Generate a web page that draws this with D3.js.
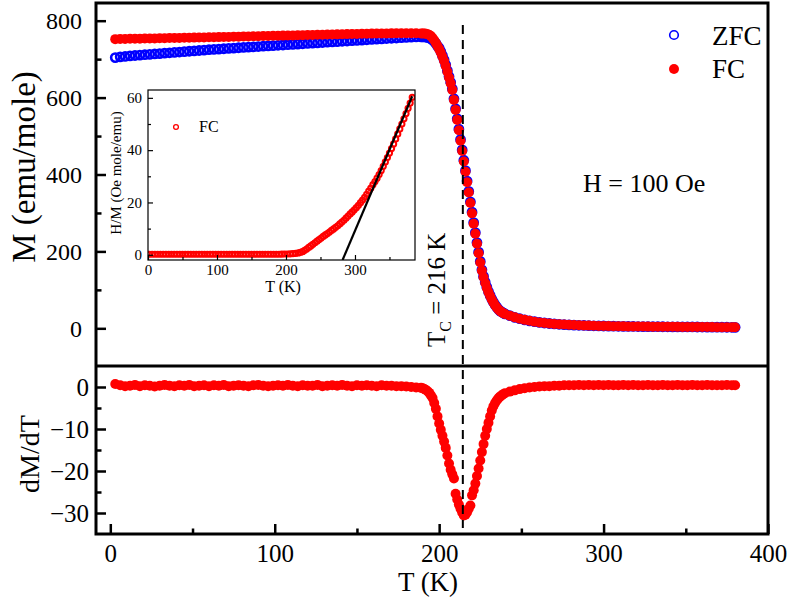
<!DOCTYPE html>
<html>
<head>
<meta charset="utf-8">
<title>M vs T</title>
<script src="https://d3js.org/d3.v7.min.js"></script>
<style>
    body { margin: 0; background: #fff; }
    .tick line { stroke: #000; }
</style>
</head>
<body>
<div id="chart"></div>
<script>
    // Temperature grids (K)
    const tLow = [3,6,9,12,15,18,21,24,27,30,33,36,39,42,45,48,51,54,57,60,63,66,69,72,75,78,81,84,87,90,93,96,99,102,105,108,111,114,117,120,123,126,129,132,135,138,141,144,147,150,153,156,159,162,165,168,171,174,177,180,183,186,189];
    const tMid = [190,191,192,193,194,195,196,197,198,199,200,201,202,203,204,205,206,207,208,209,210,211,212,213,214,215,216,217,218,219,220,221,222,223,224,225,226,227,228,229,230,231,232,233,234,235,236,237,238,239,240];
    const tHigh = [243,246,249,252,255,258,261,264,267,270,273,276,279,282,285,288,291,294,297,300,303,306,309,312,315,318,321,324,327,330,333,336,339,342,345,348,351,354,357,360,363,366,369,372,375,378,380];

    // ZFC magnetisation (emu/mole)
    const zfcLow = [704,706,707,708.5,709.5,710.5,711.5,712.5,713.5,714.5,715.5,716.5,717.5,718.5,719.5,720.5,721.5,722.5,723.5,724.5,725.3,726,727,728,728.8,729.6,730.4,731.2,732,732.8,733.6,734.4,735.2,736,736.8,737.6,738.4,739.2,740,740.8,741.6,742.4,743.2,744,744.8,745.6,746.4,747.2,748,748.8,749.6,750.4,751.2,752,752.8,753.6,754.3,755,755.8,756.5,757.2,757.8,758];
    const zfcMid = [758,758,757.5,756.5,755,753,750,746,741,734,729,720,709,698,685,670,655,640,623,597,571,545,518,491,464,437,410,383,356,329,302,275,249,223,198,174,152,135,120,107,95.5,85.5,76,68,61,55,49.5,45.5,42.5,40,37.5];

    // FC magnetisation (emu/mole)
    const fcLow = [752,752.2,752.5,752.8,753,753.3,753.5,753.8,754,754.3,754.5,754.8,755,755.3,755.5,755.8,756,756.3,756.5,756.8,757,757.3,757.6,757.9,758.2,758.5,758.8,759.1,759.4,759.7,760,760.3,760.6,760.9,761.2,761.5,761.8,762.1,762.4,762.7,763,763.3,763.6,763.9,764.2,764.5,764.8,765.1,765.4,765.7,766,766.2,766.4,766.6,766.8,767,767.1,767.2,767.3,767.3,767.3,767.2,767];
    const fcMid = [766.8,766.5,766,765,763,760,755,749,742,734,726,717,706,695,682,667,652,637,620,594,568,542,515,488,461,434,407,380,353,326,299,272,246,220,195,171,150,133,118,105,94,84,75,67,60,54,49,45,42,39.5,37];
    const fcHigh = [33,28.5,25,22,19.5,17.3,15.3,13.8,12.5,11.4,10.5,9.7,9.0,8.4,7.9,7.4,7.0,6.6,6.3,6.0,5.7,5.5,5.3,5.1,4.9,4.8,4.6,4.5,4.4,4.3,4.2,4.1,4.0,3.9,3.8,3.7,3.6,3.5,3.4,3.3,3.2,3.1,3.0,2.9,2.8,2.7,2.6];
    // above 240 K the ZFC and FC curves coincide
    const zfcHigh = fcHigh;

    // dM/dT of FC
    const dLow = [0.7,0.4,0.2,0.3,0.5,0.2,0.4,0.3,0.1,0.3,0.5,0.3,0.2,0.4,0.3,0.5,0.2,0.3,0.4,0.2,0.4,0.3,0.5,0.2,0.3,0.4,0.3,0.2,0.4,0.5,0.3,0.2,0.3,0.4,0.3,0.5,0.3,0.2,0.4,0.3,0.3,0.5,0.2,0.3,0.4,0.3,0.5,0.3,0.2,0.4,0.3,0.4,0.3,0.2,0.4,0.3,0.3,0.2,0.2,0.1,0.0,-0.1,-0.2];
    const dMid = [-0.3,-0.5,-0.7,-1.0,-1.4,-2.0,-2.6,-3.8,-5.2,-7.0,-8.7,-10.2,-11.6,-13.0,-14.5,-16.3,-18.2,-19.7,-20.8,-21.8,-25.4,-26.8,-28.0,-29.0,-29.9,-30.6,-30.4,-29.8,-29.0,-28.2,-25.8,-24.6,-23.0,-21.2,-19.4,-17.5,-15.5,-13.6,-11.6,-10.0,-8.5,-7.0,-5.6,-4.6,-3.8,-3.2,-2.7,-2.3,-2.0,-1.7,-1.5];
    const dHigh = [-1.1,-0.8,-0.5,-0.3,-0.1,0.0,0.1,0.2,0.2,0.3,0.3,0.4,0.4,0.4,0.5,0.4,0.5,0.4,0.5,0.4,0.5,0.4,0.4,0.5,0.4,0.5,0.4,0.4,0.5,0.4,0.4,0.5,0.4,0.4,0.5,0.4,0.4,0.5,0.4,0.4,0.5,0.4,0.4,0.4,0.5,0.4,0.4];

    // Inset: H/M (Oe mole/emu) of FC
    const inT = [2,6,10,14,18,22,26,30,34,38,42,46,50,54,58,62,66,70,74,78,82,86,90,94,98,102,106,110,114,118,122,126,130,134,138,142,146,150,154,158,162,166,170,174,178,182,186,190,194,198,202,206,210,214,218,
                 221,224,227,230,233,236,239,242,245,248,251,254,257,260,263,266,269,272,275,278,281,284,287,290,293,296,299,302,305,308,311,314,317,320,323,326,329,332,335,338,341,344,347,350,353,356,359,362,365,368,371,374,377,380,383];
    const inHM = [0.2,0.2,0.2,0.2,0.2,0.2,0.2,0.2,0.2,0.2,0.2,0.2,0.2,0.2,0.2,0.2,0.2,0.2,0.2,0.2,0.2,0.2,0.2,0.2,0.2,0.2,0.2,0.2,0.2,0.2,0.2,0.2,0.2,0.2,0.2,0.2,0.2,0.2,0.2,0.2,0.2,0.2,0.2,0.2,0.2,0.2,0.2,0.2,0.25,0.3,0.3,0.35,0.4,0.5,0.7,
                  0.9,1.2,1.7,2.2,2.8,3.4,4.0,4.6,5.2,5.8,6.4,7.0,7.6,8.1,8.7,9.3,9.9,10.5,11.1,11.8,12.5,13.2,14.0,14.8,15.6,16.4,17.2,18.0,18.9,19.9,20.9,22.0,23.1,24.3,25.5,26.8,28.0,29.3,30.7,32.2,33.8,35.5,37.2,38.9,40.6,42.4,44.3,46.2,48.1,50.0,52.0,54.0,56.0,58.0,60.2];
    // Curie-Weiss fit line end points
    const fitT = [282, 383];
    const fitHM = [-2, 60.6];

    const tcLine = 214.4;

    const temps = tLow.concat(tMid, tHigh);
    const zfc = zfcLow.concat(zfcMid, zfcHigh);
    const fc = fcLow.concat(fcMid, fcHigh);
    const dmdt = dLow.concat(dMid, dHigh);

    const W = 797, H = 599;
    const pLeft = 96, pRight = 768, pTop = 3, pMid = 366, pBottom = 534;
    const serif = "'Liberation Serif', 'Times New Roman', Times, serif";

    const svg = d3.select("#chart").append("svg")
        .attr("width", W).attr("height", H);
    svg.append("rect").attr("width", W).attr("height", H).attr("fill", "#fff");

    const x = d3.scaleLinear().domain([-8.7, 400]).range([pLeft, pRight]);
    const yTop = d3.scaleLinear().domain([-98, 846]).range([pMid, pTop]);
    const yBot = d3.scaleLinear().domain([-35, 5]).range([pBottom, pMid]);

    // clip paths
    const defs = svg.append("defs");
    defs.append("clipPath").attr("id", "clipTop").append("rect")
        .attr("x", pLeft).attr("y", pTop).attr("width", pRight - pLeft).attr("height", pMid - pTop);
    defs.append("clipPath").attr("id", "clipBot").append("rect")
        .attr("x", pLeft).attr("y", pMid).attr("width", pRight - pLeft).attr("height", pBottom - pMid);

    // top panel data
    const gTop = svg.append("g").attr("clip-path", "url(#clipTop)");
    gTop.selectAll("circle.zfc").data(temps).enter().append("circle")
        .attr("class", "zfc")
        .attr("cx", (d) => x(d))
        .attr("cy", (d, i) => yTop(zfc[i]))
        .attr("r", 4.1)
        .attr("fill", "none")
        .attr("stroke", "#0000ff")
        .attr("stroke-width", 2.6);
    gTop.selectAll("circle.fc").data(temps).enter().append("circle")
        .attr("class", "fc")
        .attr("cx", (d) => x(d))
        .attr("cy", (d, i) => yTop(fc[i]))
        .attr("r", 5)
        .attr("fill", "#ff0000");

    // bottom panel data
    const gBot = svg.append("g").attr("clip-path", "url(#clipBot)");
    gBot.selectAll("circle").data(temps).enter().append("circle")
        .attr("cx", (d) => x(d))
        .attr("cy", (d, i) => yBot(dmdt[i]))
        .attr("r", 5)
        .attr("fill", "#ff0000");

    // dashed Tc line
    svg.append("line")
        .attr("x1", x(tcLine)).attr("x2", x(tcLine))
        .attr("y1", 25).attr("y2", 528)
        .attr("stroke", "#000").attr("stroke-width", 2)
        .attr("stroke-dasharray", "9,6");

    // axes
    const axTop = svg.append("g").attr("transform", "translate(" + pLeft + ",0)");
    axTop.call(d3.axisLeft(yTop).tickValues([0, 200, 400, 600, 800]).tickSize(-10).tickPadding(14));
    axTop.append("g").call(d3.axisLeft(yTop).tickValues([100, 300, 500, 700]).tickSize(-5.5).tickFormat(""));

    const axBotY = svg.append("g").attr("transform", "translate(" + pLeft + ",0)");
    axBotY.call(d3.axisLeft(yBot).tickValues([0, -10, -20, -30]).tickSize(-10).tickPadding(7));
    axBotY.append("g").call(d3.axisLeft(yBot).tickValues([-5, -15, -25]).tickSize(-5.5).tickFormat(""));

    const axX = svg.append("g").attr("transform", "translate(0," + pBottom + ")");
    axX.call(d3.axisBottom(x).tickValues([0, 100, 200, 300, 400]).tickSize(-10).tickPadding(10));
    axX.append("g").call(d3.axisBottom(x).tickValues([50, 150, 250, 350]).tickSize(-5.5).tickFormat(""));

    svg.selectAll(".domain").remove();
    [axTop, axBotY, axX].forEach(function(a) {
        a.selectAll(".tick line").attr("stroke-width", 2.5);
        a.selectAll("text").style("font-size", "24px");
    });
    axX.selectAll("text").style("font-size", "25px");
    axBotY.selectAll("text").style("font-size", "25px");

    // frames
    svg.append("rect")
        .attr("x", pLeft).attr("y", pTop).attr("width", pRight - pLeft).attr("height", pBottom - pTop)
        .attr("fill", "none").attr("stroke", "#000").attr("stroke-width", 3);
    svg.append("line")
        .attr("x1", pLeft).attr("x2", pRight).attr("y1", pMid).attr("y2", pMid)
        .attr("stroke", "#000").attr("stroke-width", 3);

    // axis titles
    svg.append("text")
        .attr("transform", "translate(35,167) rotate(-90)")
        .attr("text-anchor", "middle")
        .style("font-size", "33px")
        .text("M (emu/mole)");
    svg.append("text")
        .attr("transform", "translate(39,454) rotate(-90)")
        .attr("text-anchor", "middle")
        .style("font-size", "28px")
        .text("dM/dT");
    svg.append("text")
        .attr("x", 428).attr("y", 591)
        .attr("text-anchor", "middle")
        .style("font-size", "27px")
        .text("T (K)");

    // Tc annotation
    const tc = svg.append("text")
        .attr("transform", "translate(445,347) rotate(-90)")
        .style("font-size", "25px");
    tc.append("tspan").text("T");
    tc.append("tspan").attr("dy", 6).style("font-size", "16px").text("C");
    tc.append("tspan").attr("dy", -6).text(" = 216 K");

    // field
    svg.append("text")
        .attr("x", 583).attr("y", 192)
        .style("font-size", "26px")
        .text("H = 100 Oe");

    // legend
    svg.append("circle").attr("cx", 674).attr("cy", 35).attr("r", 4.3)
        .attr("fill", "none").attr("stroke", "#0000ff").attr("stroke-width", 1.6);
    svg.append("text").attr("x", 712).attr("y", 45).style("font-size", "27px").text("ZFC");
    svg.append("circle").attr("cx", 674).attr("cy", 69).attr("r", 5).attr("fill", "#ff0000");
    svg.append("text").attr("x", 712).attr("y", 78).style("font-size", "27px").text("FC");

    // ---- inset ----
    const iL = 148, iR = 415, iT = 90, iB = 260;
    const ix = d3.scaleLinear().domain([0, 387]).range([iL, iR]);
    const iy = d3.scaleLinear().domain([-2, 63]).range([iB, iT]);

    svg.append("rect").attr("x", iL).attr("y", iT).attr("width", iR - iL).attr("height", iB - iT)
        .attr("fill", "#fff");

    defs.append("clipPath").attr("id", "clipIn").append("rect")
        .attr("x", iL).attr("y", iT).attr("width", iR - iL).attr("height", iB - iT);
    const gIn = svg.append("g").attr("clip-path", "url(#clipIn)");
    gIn.selectAll("circle").data(inT).enter().append("circle")
        .attr("cx", (d) => ix(d))
        .attr("cy", (d, i) => iy(inHM[i]))
        .attr("r", 2.6)
        .attr("fill", "none")
        .attr("stroke", "#ff0000")
        .attr("stroke-width", 2);
    gIn.append("line")
        .attr("x1", ix(fitT[0])).attr("y1", iy(fitHM[0]))
        .attr("x2", ix(fitT[1])).attr("y2", iy(fitHM[1]))
        .attr("stroke", "#000").attr("stroke-width", 2.2);

    const inAxY = svg.append("g").attr("transform", "translate(" + iL + ",0)");
    inAxY.call(d3.axisLeft(iy).tickValues([0, 20, 40, 60]).tickSize(-5).tickPadding(6));
    inAxY.append("g").call(d3.axisLeft(iy).tickValues([10, 30, 50]).tickSize(-3).tickFormat(""));
    const inAxX = svg.append("g").attr("transform", "translate(0," + iB + ")");
    inAxX.call(d3.axisBottom(ix).tickValues([0, 100, 200, 300]).tickSize(-5).tickPadding(4));
    inAxX.append("g").call(d3.axisBottom(ix).tickValues([50, 150, 250, 350]).tickSize(-3).tickFormat(""));
    [inAxY, inAxX].forEach(function(a) {
        a.selectAll(".domain").remove();
        a.selectAll(".tick line").attr("stroke-width", 1.2);
        a.selectAll("text").style("font-size", "15px");
    });

    svg.append("rect").attr("x", iL).attr("y", iT).attr("width", iR - iL).attr("height", iB - iT)
        .attr("fill", "none").attr("stroke", "#000").attr("stroke-width", 1.2);

    svg.append("text")
        .attr("transform", "translate(121,173) rotate(-90)")
        .attr("text-anchor", "middle")
        .style("font-size", "15px")
        .text("H/M (Oe mole/emu)");
    svg.append("text")
        .attr("x", 283).attr("y", 292)
        .attr("text-anchor", "middle")
        .style("font-size", "16px")
        .text("T (K)");

    svg.append("circle").attr("cx", 176).attr("cy", 127).attr("r", 2.4)
        .attr("fill", "none").attr("stroke", "#ff0000").attr("stroke-width", 1.3);
    svg.append("text").attr("x", 199).attr("y", 132).style("font-size", "16px").text("FC");

    // serif everywhere, including the axis groups
    svg.selectAll("g").attr("font-family", serif);
    svg.selectAll("text").style("font-family", serif).attr("fill", "#000");
</script>
</body>
</html>
